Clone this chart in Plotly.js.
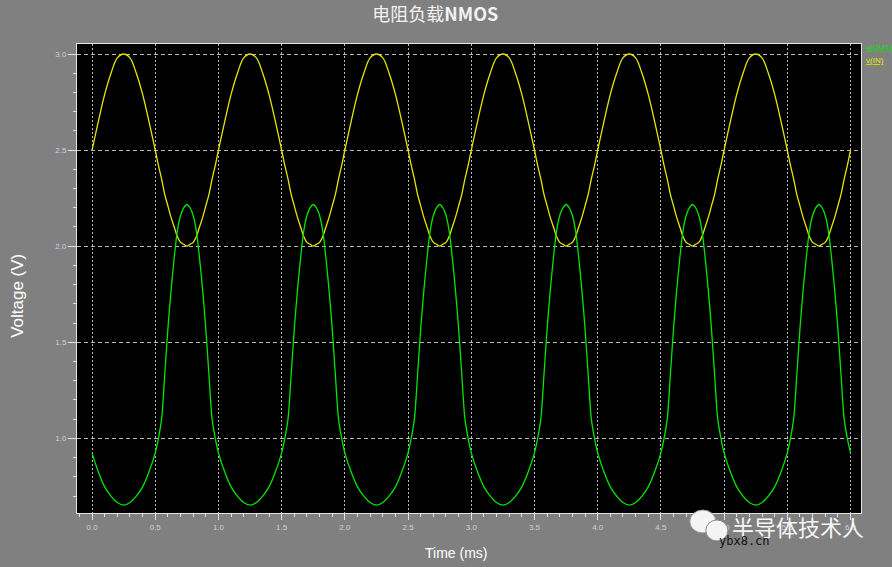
<!DOCTYPE html>
<html>
<head>
<meta charset="utf-8">
<script src="https://cdn.plot.ly/plotly-3.0.1.min.js"></script>
<style>html,body{margin:0;padding:0;background:#808080;}#chart{width:892px;height:567px;}</style>
</head>
<body>
<div id="chart"></div>
<script>
// Time samples (ms)
var timeMs = [
0,0.05,0.1,0.15,0.2,0.25,0.3,0.35,0.4,0.45,0.5,0.525,0.55,0.575,0.6,0.625,0.65,0.675,0.7,0.725,0.75,0.775,0.8,0.825,0.85,0.875,0.9,0.925,0.95,0.975,
1,1.05,1.1,1.15,1.2,1.25,1.3,1.35,1.4,1.45,1.5,1.525,1.55,1.575,1.6,1.625,1.65,1.675,1.7,1.725,1.75,1.775,1.8,1.825,1.85,1.875,1.9,1.925,1.95,1.975,
2,2.05,2.1,2.15,2.2,2.25,2.3,2.35,2.4,2.45,2.5,2.525,2.55,2.575,2.6,2.625,2.65,2.675,2.7,2.725,2.75,2.775,2.8,2.825,2.85,2.875,2.9,2.925,2.95,2.975,
3,3.05,3.1,3.15,3.2,3.25,3.3,3.35,3.4,3.45,3.5,3.525,3.55,3.575,3.6,3.625,3.65,3.675,3.7,3.725,3.75,3.775,3.8,3.825,3.85,3.875,3.9,3.925,3.95,3.975,
4,4.05,4.1,4.15,4.2,4.25,4.3,4.35,4.4,4.45,4.5,4.525,4.55,4.575,4.6,4.625,4.65,4.675,4.7,4.725,4.75,4.775,4.8,4.825,4.85,4.875,4.9,4.925,4.95,4.975,
5,5.05,5.1,5.15,5.2,5.25,5.3,5.35,5.4,5.45,5.5,5.525,5.55,5.575,5.6,5.625,5.65,5.675,5.7,5.725,5.75,5.775,5.8,5.825,5.85,5.875,5.9,5.925,5.95,5.975,
6];

// v(IN) (V)
var vIn = [
2.5,2.65,2.79,2.9,2.98,3.0,2.98,2.9,2.79,2.65,2.5,2.42,2.35,2.27,2.21,2.15,2.1,2.05,2.02,2.01,2.0,2.01,2.02,2.05,2.1,2.15,2.21,2.27,2.35,2.42,
2.5,2.65,2.79,2.9,2.98,3.0,2.98,2.9,2.79,2.65,2.5,2.42,2.35,2.27,2.21,2.15,2.1,2.05,2.02,2.01,2.0,2.01,2.02,2.05,2.1,2.15,2.21,2.27,2.35,2.42,
2.5,2.65,2.79,2.9,2.98,3.0,2.98,2.9,2.79,2.65,2.5,2.42,2.35,2.27,2.21,2.15,2.1,2.05,2.02,2.01,2.0,2.01,2.02,2.05,2.1,2.15,2.21,2.27,2.35,2.42,
2.5,2.65,2.79,2.9,2.98,3.0,2.98,2.9,2.79,2.65,2.5,2.42,2.35,2.27,2.21,2.15,2.1,2.05,2.02,2.01,2.0,2.01,2.02,2.05,2.1,2.15,2.21,2.27,2.35,2.42,
2.5,2.65,2.79,2.9,2.98,3.0,2.98,2.9,2.79,2.65,2.5,2.42,2.35,2.27,2.21,2.15,2.1,2.05,2.02,2.01,2.0,2.01,2.02,2.05,2.1,2.15,2.21,2.27,2.35,2.42,
2.5,2.65,2.79,2.9,2.98,3.0,2.98,2.9,2.79,2.65,2.5,2.42,2.35,2.27,2.21,2.15,2.1,2.05,2.02,2.01,2.0,2.01,2.02,2.05,2.1,2.15,2.21,2.27,2.35,2.42,
2.5];

// v(OUT) (V)
var vOut = [
0.925,0.825,0.748,0.70,0.667,0.653,0.667,0.70,0.748,0.825,0.925,1.0,1.10,1.33,1.57,1.77,1.94,2.08,2.16,2.20,2.217,2.20,2.16,2.08,1.94,1.77,1.57,1.33,1.10,1.0,
0.925,0.825,0.748,0.70,0.667,0.653,0.667,0.70,0.748,0.825,0.925,1.0,1.10,1.33,1.57,1.77,1.94,2.08,2.16,2.20,2.217,2.20,2.16,2.08,1.94,1.77,1.57,1.33,1.10,1.0,
0.925,0.825,0.748,0.70,0.667,0.653,0.667,0.70,0.748,0.825,0.925,1.0,1.10,1.33,1.57,1.77,1.94,2.08,2.16,2.20,2.217,2.20,2.16,2.08,1.94,1.77,1.57,1.33,1.10,1.0,
0.925,0.825,0.748,0.70,0.667,0.653,0.667,0.70,0.748,0.825,0.925,1.0,1.10,1.33,1.57,1.77,1.94,2.08,2.16,2.20,2.217,2.20,2.16,2.08,1.94,1.77,1.57,1.33,1.10,1.0,
0.925,0.825,0.748,0.70,0.667,0.653,0.667,0.70,0.748,0.825,0.925,1.0,1.10,1.33,1.57,1.77,1.94,2.08,2.16,2.20,2.217,2.20,2.16,2.08,1.94,1.77,1.57,1.33,1.10,1.0,
0.925,0.825,0.748,0.70,0.667,0.653,0.667,0.70,0.748,0.825,0.925,1.0,1.10,1.33,1.57,1.77,1.94,2.08,2.16,2.20,2.217,2.20,2.16,2.08,1.94,1.77,1.57,1.33,1.10,1.0,
0.925];

var seriesNames = ['v(OUT)', 'v(IN)'];
var titleText = '电阻负载<b>NMOS</b>';
var xTitle = 'Time (ms)';
var yTitle = 'Voltage (V)';

var colIn = '#e6e600';
var colOut = '#00e600';
var tickFontCol = '#c8d2e4';

var traces = [
  {x: timeMs, y: vIn, name: seriesNames[1], type: 'scatter', mode: 'lines',
   line: {color: colIn, width: 1.3, shape: 'spline', smoothing: 1}},
  {x: timeMs, y: vOut, name: seriesNames[0], type: 'scatter', mode: 'lines',
   line: {color: colOut, width: 1.3, shape: 'spline', smoothing: 0.9}}
];

var axisCommon = {
  showline: true, linecolor: '#e4e4e4', linewidth: 1, mirror: true,
  ticks: 'outside', ticklen: 6, tickwidth: 1, tickcolor: '#e4e4e4',
  tickfont: {family: 'Liberation Sans, Arial, sans-serif', size: 8, color: tickFontCol},
  showgrid: true, gridcolor: '#b8b8b8', gridwidth: 1,
  zeroline: false, tickformat: '.1f', dtick: 0.5, tick0: 0,
  minor: {ticks: 'outside', ticklen: 3, tickcolor: '#e4e4e4', dtick: 0.1, tick0: 0, showgrid: false}
};

var layout = {
  width: 892, height: 567,
  paper_bgcolor: '#808080', plot_bgcolor: '#000000',
  margin: {l: 77, r: 31, t: 44, b: 54},
  showlegend: false,
  title: {text: titleText, x: 0.488, xref: 'container', xanchor: 'center',
          y: 1 - 15 / 567, yref: 'container', yanchor: 'middle',
          font: {family: 'Noto Sans CJK SC, Liberation Sans, sans-serif', size: 18, color: '#f2f2f2'}},
  xaxis: Object.assign({}, axisCommon, {range: [-0.119, 6.083], griddash: '2px,2px'}),
  yaxis: Object.assign({}, axisCommon, {range: [0.612, 3.052], griddash: '4px,3px', ticklen: 8}),
  annotations: [
    {text: yTitle, xref: 'paper', yref: 'paper', x: (18 - 77) / 783, y: (513 - 295) / 471,
     textangle: -90, showarrow: false, xanchor: 'center', yanchor: 'middle',
     font: {family: 'Liberation Sans, Arial, sans-serif', size: 17, color: '#ffffff'}},
    {text: xTitle, xref: 'paper', yref: 'paper', x: (456 - 77) / 783, y: (513 - 553) / 471,
     showarrow: false, xanchor: 'center', yanchor: 'middle',
     font: {family: 'Liberation Sans, Arial, sans-serif', size: 14, color: '#ffffff'}},
    {text: '<u>' + seriesNames[0] + '</u>', xref: 'paper', yref: 'paper', x: (863 - 77) / 783, y: (513 - 46) / 471,
     showarrow: false, xanchor: 'left', yanchor: 'middle',
     font: {family: 'Liberation Sans, Arial, sans-serif', size: 8, color: colOut}},
    {text: '<u>' + seriesNames[1] + '</u>', xref: 'paper', yref: 'paper', x: (863 - 77) / 783, y: (513 - 59) / 471,
     showarrow: false, xanchor: 'left', yanchor: 'middle',
     font: {family: 'Liberation Sans, Arial, sans-serif', size: 8, color: colIn}},
    {text: '半导体技术人', xref: 'paper', yref: 'paper', x: (797 - 77) / 783, y: (513 - 526) / 471,
     showarrow: false, xanchor: 'center', yanchor: 'middle',
     font: {family: 'Noto Sans CJK SC, sans-serif', size: 22, color: '#f6f6f6'}},
    {text: 'ybx8.cn', xref: 'paper', yref: 'paper', x: (744 - 77) / 783, y: (513 - 541) / 471,
     showarrow: false, xanchor: 'center', yanchor: 'middle',
     font: {family: 'DejaVu Sans Mono, monospace', size: 12, color: '#111111'}}
  ],
  shapes: [
    {type: 'circle', xref: 'paper', yref: 'paper',
     x0: (689 - 77) / 783, x1: (715 - 77) / 783, y0: (513 - 533) / 471, y1: (513 - 510) / 471,
     fillcolor: '#f4f4f4', line: {color: '#9a9a9a', width: 1}},
    {type: 'circle', xref: 'paper', yref: 'paper',
     x0: (705 - 77) / 783, x1: (727 - 77) / 783, y0: (513 - 541) / 471, y1: (513 - 520) / 471,
     fillcolor: '#f4f4f4', line: {color: '#8a8a8a', width: 1}}
  ]
};

Plotly.newPlot('chart', traces, layout, {displayModeBar: false, staticPlot: true});
</script>
</body>
</html>
